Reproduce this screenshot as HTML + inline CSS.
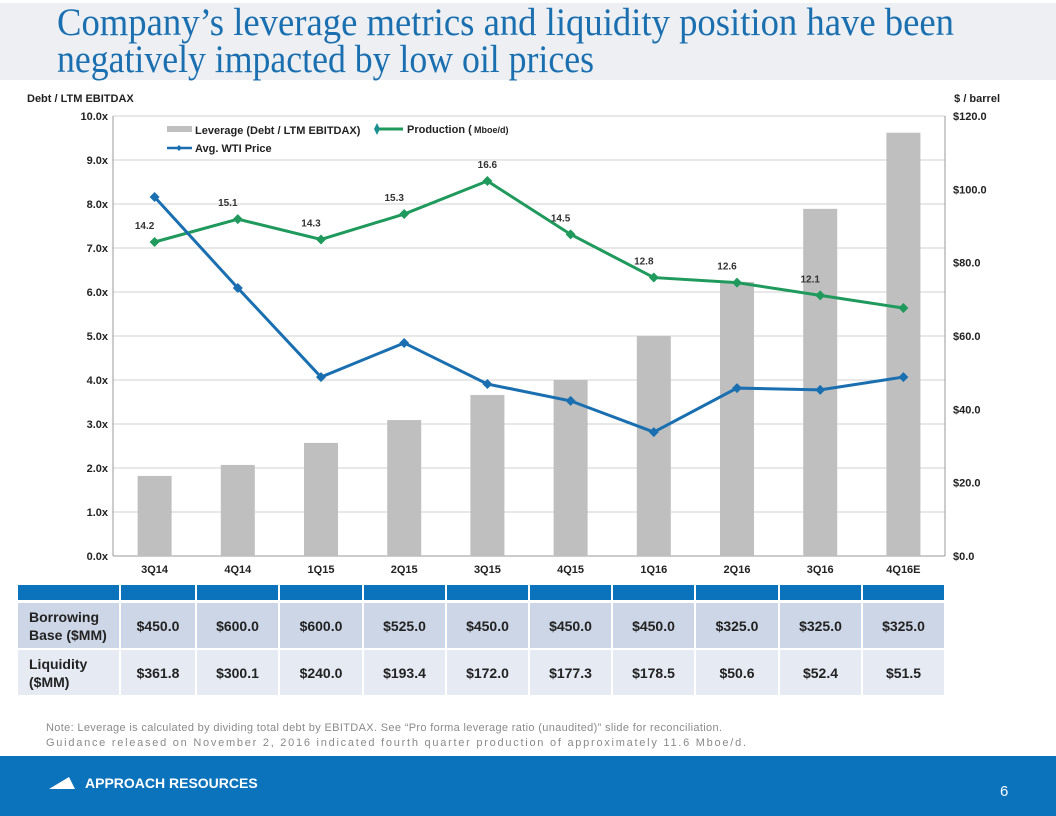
<!DOCTYPE html>
<html><head><meta charset="utf-8">
<style>
html,body{margin:0;padding:0;background:#fff;}
svg{display:block;font-family:"Liberation Sans",Arial,sans-serif;}
</style></head>
<body>
<svg id="s" width="1056" height="816" viewBox="0 0 1056 816" xmlns="http://www.w3.org/2000/svg">
<rect x="0" y="3" width="1056" height="77" fill="#edeff2"/>
<text x="57" y="35" font-family="Liberation Serif,serif" font-size="39" fill="#1a6fb0" textLength="897" lengthAdjust="spacingAndGlyphs">Company’s leverage metrics and liquidity position have been</text>
<text x="57" y="72" font-family="Liberation Serif,serif" font-size="39" fill="#1a6fb0" textLength="537" lengthAdjust="spacingAndGlyphs">negatively impacted by low oil prices</text>
<text x="27" y="102" font-size="11" font-weight="bold" fill="#222">Debt / LTM EBITDAX</text>
<text x="1000" y="102" font-size="11" font-weight="bold" fill="#222" text-anchor="end">$ / barrel</text>
<g id="chart"></g>
<g id="table"></g>
<text x="46" y="731" font-size="11" fill="#8a8a8a" textLength="676" lengthAdjust="spacing">Note: Leverage is calculated by dividing total debt by EBITDAX.  See “Pro forma leverage ratio (unaudited)” slide for reconciliation.</text>
<text x="46" y="746" font-size="11" fill="#8a8a8a" textLength="700" lengthAdjust="spacing">Guidance released on November 2, 2016 indicated fourth quarter production of approximately 11.6 Mboe/d.</text>
<rect x="0" y="756" width="1056" height="60" fill="#0b72bc"/>
<polygon points="49,789 69,777 75,789" fill="#fff"/>
<text x="85" y="788" font-size="14" font-weight="bold" fill="#fff">APPROACH RESOURCES</text>
<text x="1000" y="796" font-size="15" fill="#fff">6</text>
</svg>
<script>
const categories=["3Q14","4Q14","1Q15","2Q15","3Q15","4Q15","1Q16","2Q16","3Q16","4Q16E"];
const leverage=[1.82,2.07,2.57,3.09,3.66,4.0,5.0,6.23,7.89,9.62];
const production=[14.2,15.1,14.3,15.3,16.6,14.5,12.8,12.6,12.1,11.6];
const productionLabels=["14.2","15.1","14.3","15.3","16.6","14.5","12.8","12.6","12.1",""];
const wti=[97.9,73.1,48.8,58.1,46.9,42.3,33.8,45.8,45.3,48.8];
const leftTicks=[0,1,2,3,4,5,6,7,8,9,10];
const rightTicks=[0,20,40,60,80,100,120];
const borrowingBase=["$450.0","$600.0","$600.0","$525.0","$450.0","$450.0","$450.0","$325.0","$325.0","$325.0"];
const liquidity=["$361.8","$300.1","$240.0","$193.4","$172.0","$177.3","$178.5","$50.6","$52.4","$51.5"];

const NS="http://www.w3.org/2000/svg";
const X0=113,X1=945,Y0=556,Y1=116;
const step=(X1-X0)/categories.length;
const xc=i=>X0+step*(i+0.5);
const yL=v=>Y0-(v/10)*(Y0-Y1);
const yR=v=>Y0-(v/120)*(Y0-Y1);
const yP=v=>242-(v-14.2)*25.4;
function mk(tag,attrs,parent,txt){const e=document.createElementNS(NS,tag);for(const k in attrs)e.setAttribute(k,attrs[k]);if(txt!==undefined)e.textContent=txt;parent.appendChild(e);return e;}
const g=document.getElementById('chart');
leftTicks.forEach(t=>{
  const y=yL(t);
  const l=mk('line',{x1:X0,x2:X1,y1:y,y2:y,stroke:t===0?'#999':'#d0d0d0','stroke-width':1},g);
  
  
  const tx=mk('text',{x:X0-5,y:y+4,'font-size':11,'font-weight':'bold','text-anchor':'end',fill:'#222'},g,t.toFixed(1)+'x');
  
  
});
rightTicks.forEach(t=>{
  const tx=mk('text',{x:X1+8,y:yR(t)+4,'font-size':11,'font-weight':'bold',fill:'#222'},g,'$'+t.toFixed(1));
  
  
});
mk('line',{x1:X0,x2:X0,y1:Y1,y2:Y0,stroke:'#999'},g);
mk('line',{x1:X1,x2:X1,y1:Y1,y2:Y0,stroke:'#999'},g);
categories.forEach((c,i)=>{
  const tx=mk('text',{x:xc(i),y:Y0+17,'font-size':11,'font-weight':'bold','text-anchor':'middle',fill:'#222'},g,c);
  
  
  const b=mk('rect',{x:xc(i)-17,y:yL(leverage[i]),width:34,height:Y0-yL(leverage[i]),fill:'#bfbfbf'},g);
  
  
});
function line(vals,f,color,w,name,ds){
  const p=mk('polyline',{points:vals.map((v,i)=>xc(i)+','+f(v)).join(' '),fill:'none',stroke:color,'stroke-width':w},g);
  
  
  vals.forEach((v,i)=>{
    const d=mk('polygon',{points:`${xc(i)},${f(v)-ds} ${xc(i)+ds},${f(v)} ${xc(i)},${f(v)+ds} ${xc(i)-ds},${f(v)}`,fill:color},g);
    
    
  });
}
line(production,yP,'#1f9a5c',3,'production-line',5);
line(wti,yR,'#1a6fb0',3,'wti-line',5);
production.forEach((v,i)=>{
  if(!productionLabels[i])return;
  const tx=mk('text',{x:xc(i)-10,y:yP(v)-13,'font-size':10,'font-weight':'bold','text-anchor':'middle',fill:'#333'},g,productionLabels[i]);
  if(i===4) tx.setAttribute('x',xc(i));
  
  
});
const lg=mk('g',{},g);


mk('rect',{x:167,y:126,width:25,height:6,fill:'#bfbfbf'},lg);
mk('text',{x:195,y:134,'font-size':11,'font-weight':'bold',fill:'#222'},lg,'Leverage (Debt / LTM EBITDAX)');
mk('line',{x1:375,x2:403,y1:129,y2:129,stroke:'#1f9a5c','stroke-width':3},lg);
mk('polygon',{points:'377,123 380,129 377,135 374,129',fill:'#1a8f8f'},lg);
mk('text',{x:407,y:133,'font-size':11,'font-weight':'bold',fill:'#222'},lg,'Production  (');
mk('text',{x:474,y:133,'font-size':9,'font-weight':'bold',fill:'#222'},lg,'Mboe/d)');
mk('line',{x1:167,x2:192,y1:148,y2:148,stroke:'#1a6fb0','stroke-width':2.5},lg);
mk('polygon',{points:'179,145 182,148 179,151 176,148',fill:'#1a6fb0'},lg);
mk('text',{x:195,y:152,'font-size':11,'font-weight':'bold',fill:'#222'},lg,'Avg. WTI Price');
const t=document.getElementById('table');
const bounds=[[18,119]];
categories.forEach((c,i)=>{
  const a=i===0?121:Math.round(X0+step*i)+1;
  const b=Math.round(X0+step*(i+1))-1;
  bounds.push([a,b]);
});
const rows=[[585,600,'#0b72bc'],[603,648,'#cdd6e6'],[650,695,'#e6eaf3']];
rows.forEach((r,ri)=>bounds.forEach((c)=>{
  const cell=mk('rect',{x:c[0],y:r[0],width:c[1]-c[0],height:r[1]-r[0],fill:r[2]},t);
  
  
}));
[['Borrowing','Base ($MM)',borrowingBase,603],['Liquidity','($MM)',liquidity,650]].forEach(r=>{
  mk('text',{x:29,y:r[3]+19,'font-size':14,'font-weight':'bold',fill:'#222'},t,r[0]);
  mk('text',{x:29,y:r[3]+37,'font-size':14,'font-weight':'bold',fill:'#222'},t,r[1]);
  r[2].forEach((v,i)=>{
    const cx=(bounds[i+1][0]+bounds[i+1][1])/2;
    const tx=mk('text',{x:cx,y:r[3]+28,'font-size':14,'font-weight':'bold','text-anchor':'middle',fill:'#222'},t,v);
    
    
  });
});
</script>
</body></html>
